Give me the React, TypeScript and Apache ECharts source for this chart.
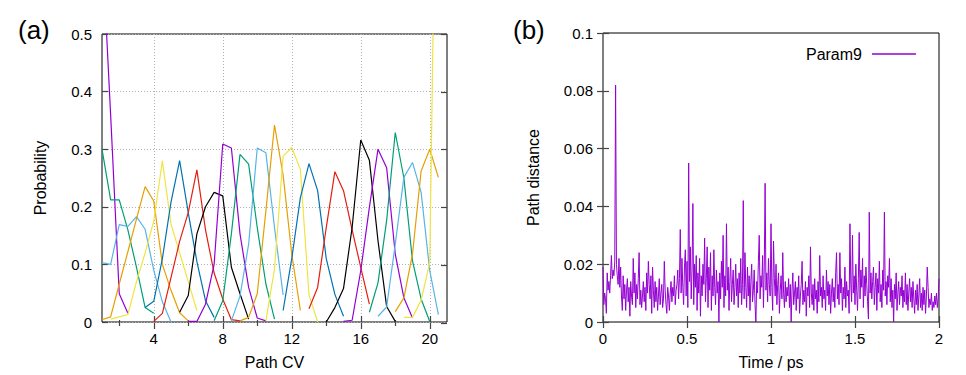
import React, { useEffect, useRef } from "react";
import * as echarts from "echarts";

// ---------- Panel (a): probability histograms along the path CV ----------
const curveColors = ["#9400d3", "#009e73", "#56b4e9", "#e69f00", "#f0e442", "#0072b2", "#e51e10", "#000000"];
const binStep = 0.5;
const curveStarts = [1, 1, 1, 1, 1.5, 3.5, 4, 5.5, 6, 7.5, 8.5, 9, 10.5, 11.5, 13, 14, 15, 16.5, 17, 18, 18.5];
const curveValues = [
  [0.66, 0.36, 0.049, 0.015],
  [0.30, 0.212, 0.212, 0.16, 0.095, 0.025, 0.015],
  [0.103, 0.100, 0.169, 0.166, 0.183, 0.161, 0.09, 0.035, 0.0],
  [0.004, 0.009, 0.066, 0.122, 0.179, 0.235, 0.21, 0.10, 0.055, 0.016, 0.002],
  [0.005, 0.009, 0.013, 0.07, 0.12, 0.175, 0.28, 0.17, 0.12, 0.07, 0.02],
  [0.025, 0.036, 0.11, 0.208, 0.28, 0.19, 0.105, 0.037, 0.008],
  [0.001, 0.015, 0.077, 0.14, 0.19, 0.264, 0.16, 0.085, 0.04, 0.004, 0.002],
  [0.017, 0.046, 0.153, 0.2, 0.225, 0.219, 0.095, 0.049, 0.005],
  [0.001, 0.001, 0.031, 0.1, 0.309, 0.302, 0.153, 0.06, 0.007, 0.002],
  [0.002, 0.037, 0.153, 0.291, 0.274, 0.164, 0.066, 0.005],
  [0.002, 0.045, 0.135, 0.302, 0.294, 0.164, 0.047],
  [0.002, 0.008, 0.049, 0.193, 0.342, 0.255, 0.118, 0.02],
  [0.002, 0.092, 0.288, 0.303, 0.265, 0.047, 0.0],
  [0.02, 0.11, 0.216, 0.275, 0.228, 0.11, 0.048, 0.01],
  [0.023, 0.06, 0.164, 0.261, 0.228, 0.16, 0.095, 0.031],
  [0.0, 0.025, 0.058, 0.164, 0.316, 0.281, 0.141, 0.027, 0.001],
  [0.001, 0.003, 0.089, 0.199, 0.30, 0.268, 0.118, 0.042, 0.007],
  [0.017, 0.068, 0.176, 0.329, 0.25, 0.106, 0.04, 0.001],
  [0.01, 0.026, 0.135, 0.251, 0.277, 0.225, 0.089, 0.013],
  [0.018, 0.042, 0.118, 0.262, 0.30, 0.251],
  [0.008, 0.008, 0.038, 0.103, 1.15],
];
const pathCvTicks = [4, 8, 12, 16, 20];
const pathCvMinorTicks = [2, 6, 10, 14, 18];

// ---------- Panel (b): path distance vs time ----------
const timeStep = 0.005;
const param9 = [
  0.019, 0.006, 0.010, 0.008, 0.003, 0.017, 0.011, 0.014, 0.010, 0.016, 0.023, 0.015, 0.018, 0.016, 0.021, 0.082, 0.020, 0.016, 0.013, 0.022,
  0.012, 0.019, 0.009, 0.004, 0.016, 0.008, 0.013, 0.004, 0.011, 0.015, 0.007, 0.012, 0.002, 0.014, 0.009, 0.006, 0.022, 0.010, 0.017, 0.005,
  0.013, 0.008, 0.015, 0.024, 0.006, 0.011, 0.005, 0.009, 0.014, 0.007, 0.012, 0.004, 0.017, 0.010, 0.021, 0.013, 0.008, 0.016, 0.003, 0.019,
  0.011, 0.005, 0.014, 0.007, 0.012, 0.004, 0.009, 0.015, 0.006, 0.010, 0.013, 0.005, 0.008, 0.021, 0.011, 0.006, 0.003, 0.012, 0.009, 0.004,
  0.010, 0.014, 0.007, 0.012, 0.009, 0.016, 0.006, 0.011, 0.013, 0.018, 0.008, 0.015, 0.032, 0.010, 0.022, 0.012, 0.006, 0.019, 0.025, 0.009,
  0.021, 0.005, 0.055, 0.014, 0.026, 0.008, 0.018, 0.041, 0.006, 0.020, 0.012, 0.023, 0.004, 0.017, 0.010, 0.022, 0.002, 0.016, 0.009, 0.020,
  0.013, 0.029, 0.007, 0.015, 0.026, 0.005, 0.019, 0.011, 0.024, 0.004, 0.016, 0.009, 0.025, 0.012, 0.006, 0.018, 0.010, 0.014, 0.000, 0.017,
  0.008, 0.021, 0.012, 0.030, 0.005, 0.016, 0.009, 0.034, 0.011, 0.019, 0.004, 0.014, 0.022, 0.007, 0.013, 0.018, 0.006, 0.012, 0.020, 0.009,
  0.015, 0.005, 0.017, 0.010, 0.022, 0.006, 0.013, 0.042, 0.008, 0.024, 0.012, 0.005, 0.019, 0.009, 0.016, 0.004, 0.014, 0.020, 0.007, 0.011,
  0.018, 0.006, 0.000, 0.014, 0.010, 0.021, 0.030, 0.008, 0.016, 0.012, 0.023, 0.005, 0.019, 0.048, 0.011, 0.017, 0.007, 0.022, 0.013, 0.009,
  0.034, 0.012, 0.004, 0.028, 0.015, 0.009, 0.020, 0.006, 0.013, 0.017, 0.003, 0.011, 0.016, 0.008, 0.024, 0.010, 0.005, 0.014, 0.007, 0.012,
  0.009, 0.015, 0.005, 0.013, 0.000, 0.011, 0.017, 0.006, 0.010, 0.014, 0.004, 0.012, 0.008, 0.016, 0.003, 0.009, 0.013, 0.021, 0.006, 0.011,
  0.007, 0.014, 0.002, 0.012, 0.009, 0.016, 0.005, 0.026, 0.010, 0.006, 0.013, 0.004, 0.015, 0.008, 0.011, 0.003, 0.014, 0.007, 0.023, 0.009,
  0.012, 0.005, 0.016, 0.008, 0.011, 0.004, 0.018, 0.009, 0.014, 0.006, 0.013, 0.003, 0.010, 0.015, 0.007, 0.012, 0.005, 0.017, 0.024, 0.008,
  0.013, 0.006, 0.024, 0.010, 0.015, 0.004, 0.012, 0.008, 0.019, 0.005, 0.014, 0.009, 0.011, 0.003, 0.034, 0.013, 0.007, 0.030, 0.010, 0.016,
  0.006, 0.020, 0.011, 0.004, 0.015, 0.031, 0.008, 0.018, 0.012, 0.022, 0.005, 0.016, 0.009, 0.019, 0.013, 0.007, 0.001, 0.038, 0.010, 0.017,
  0.008, 0.014, 0.019, 0.006, 0.012, 0.017, 0.004, 0.015, 0.010, 0.021, 0.007, 0.013, 0.005, 0.018, 0.011, 0.038, 0.009, 0.014, 0.006, 0.016,
  0.012, 0.022, 0.007, 0.015, 0.005, 0.011, 0.000, 0.013, 0.008, 0.017, 0.004, 0.010, 0.014, 0.006, 0.012, 0.009, 0.016, 0.005, 0.011, 0.007,
  0.017, 0.006, 0.013, 0.004, 0.010, 0.015, 0.007, 0.012, 0.005, 0.014, 0.008, 0.003, 0.011, 0.006, 0.013, 0.004, 0.009, 0.015, 0.005, 0.010,
  0.004, 0.012, 0.006, 0.011, 0.003, 0.009, 0.019, 0.012, 0.005, 0.008, 0.006, 0.010, 0.004, 0.007, 0.005, 0.009, 0.006, 0.010, 0.005, 0.008,
  0.015,
];

const FONT = "'Liberation Sans', Arial, Helvetica, sans-serif";
const TICK_COLOR = "#444";

const gridA = { left: 102, top: 34, width: 345, height: 289 };
const gridB = { left: 603, top: 33, width: 336, height: 289 };

function tickOnly(extra: any) {
  return {
    axisLine: { show: false },
    axisLabel: { show: false },
    splitLine: { show: false },
    ...extra,
  };
}

export default function App() {
  const ref = useRef<HTMLDivElement>(null);

  useEffect(() => {
    document.body.style.margin = "0";
    if (!ref.current) return;
    const chart = echarts.init(ref.current, undefined, { renderer: "svg" });

    const labelStyle = { color: "#000", fontSize: 15, fontFamily: FONT };
    const nameStyle = { color: "#000", fontSize: 16, fontFamily: FONT };

    const majorTick = (vals?: number[]) => ({
      show: true,
      inside: true,
      length: 6,
      lineStyle: { color: TICK_COLOR, width: 1.2 },
      ...(vals ? { customValues: vals } : {}),
    });
    const minorTick = (vals: number[]) => ({
      show: true,
      inside: true,
      length: 3,
      lineStyle: { color: TICK_COLOR, width: 1.2 },
      customValues: vals,
    });
    const dotted = { show: true, lineStyle: { color: "#b0b0b0", width: 1, type: [1, 2] } };

    const grids = [
      { ...gridA, show: true, borderColor: "#000", borderWidth: 1, backgroundColor: "transparent" },
      { ...gridA },
      { ...gridA },
      { ...gridA },
      { ...gridB, show: true, borderColor: "#000", borderWidth: 1, backgroundColor: "transparent" },
      { ...gridB },
    ];

    const xAxes: any[] = [
      {
        gridIndex: 0, type: "value", min: 1, max: 21, position: "bottom",
        axisLine: { show: false },
        axisTick: majorTick(pathCvTicks),
        axisLabel: { ...labelStyle, margin: 9, customValues: pathCvTicks },
        splitLine: dotted,
        name: "Path CV", nameLocation: "middle", nameGap: 32, nameTextStyle: nameStyle,
      },
      tickOnly({ gridIndex: 1, type: "value", min: 1, max: 21, position: "top", axisTick: majorTick(pathCvTicks) }),
      tickOnly({ gridIndex: 2, type: "value", min: 1, max: 21, position: "bottom", axisTick: minorTick(pathCvMinorTicks) }),
      tickOnly({ gridIndex: 3, type: "value", min: 1, max: 21, position: "top", axisTick: minorTick(pathCvMinorTicks) }),
      {
        gridIndex: 4, type: "value", min: 0, max: 2, interval: 0.5, position: "bottom",
        axisLine: { show: false },
        axisTick: majorTick(),
        axisLabel: { ...labelStyle, margin: 9 },
        splitLine: { show: false },
        name: "Time / ps", nameLocation: "middle", nameGap: 32, nameTextStyle: nameStyle,
      },
      tickOnly({ gridIndex: 5, type: "value", min: 0, max: 2, interval: 0.5, position: "top", axisTick: majorTick() }),
    ];

    const yAxes: any[] = [
      {
        gridIndex: 0, type: "value", min: 0, max: 0.5, interval: 0.1, position: "left",
        axisLine: { show: false },
        axisTick: majorTick(),
        axisLabel: { ...labelStyle, margin: 10 },
        splitLine: dotted,
        name: "Probability", nameLocation: "middle", nameGap: 54, nameTextStyle: nameStyle,
      },
      tickOnly({ gridIndex: 1, type: "value", min: 0, max: 0.5, interval: 0.1, position: "right", axisTick: majorTick() }),
      { gridIndex: 2, type: "value", min: 0, max: 0.5, show: false },
      { gridIndex: 3, type: "value", min: 0, max: 0.5, show: false },
      {
        gridIndex: 4, type: "value", min: 0, max: 0.1, interval: 0.02, position: "left",
        axisLine: { show: false },
        axisTick: majorTick(),
        axisLabel: { ...labelStyle, margin: 10 },
        splitLine: { show: false },
        name: "Path distance", nameLocation: "middle", nameGap: 62, nameTextStyle: nameStyle,
      },
      tickOnly({ gridIndex: 5, type: "value", min: 0, max: 0.1, interval: 0.02, position: "right", axisTick: majorTick() }),
    ];

    const curveSeries = curveValues.map((vals, k) => ({
      type: "line",
      name: "curve" + (k + 1),
      xAxisIndex: 0,
      yAxisIndex: 0,
      symbol: "none",
      clip: true,
      lineStyle: { color: curveColors[k % curveColors.length], width: 1.2 },
      itemStyle: { color: curveColors[k % curveColors.length] },
      data: vals.map((v, i) => [curveStarts[k] + i * binStep, v]),
      z: 3,
    }));

    const paramSeries = {
      type: "line",
      name: "Param9",
      xAxisIndex: 4,
      yAxisIndex: 4,
      symbol: "none",
      clip: true,
      lineStyle: { color: "#9400d3", width: 1.0 },
      itemStyle: { color: "#9400d3" },
      data: param9.map((v, i) => [i * timeStep, v]),
      z: 3,
    };

    chart.setOption({
      animation: false,
      backgroundColor: "#fff",
      textStyle: { fontFamily: FONT },
      grid: grids,
      xAxis: xAxes,
      yAxis: yAxes,
      legend: {
        data: [{ name: "Param9", icon: "rect" }],
        right: 45,
        top: 41,
        align: "right",
        itemWidth: 44,
        itemHeight: 1.5,
        itemStyle: { color: "#9400d3", borderWidth: 0 },
        textStyle: { color: "#000", fontSize: 16, fontFamily: FONT, padding: [0, 5, 0, 0] },
      },
      graphic: [
        { type: "text", left: 18, top: 17, style: { text: "(a)", font: `26px ${FONT}`, fill: "#000" } },
        { type: "text", left: 513, top: 17, style: { text: "(b)", font: `26px ${FONT}`, fill: "#000" } },
      ],
      series: [...curveSeries, paramSeries],
    });

    return () => chart.dispose();
  }, []);

  return <div ref={ref} style={{ width: 966, height: 375 }} />;
}
